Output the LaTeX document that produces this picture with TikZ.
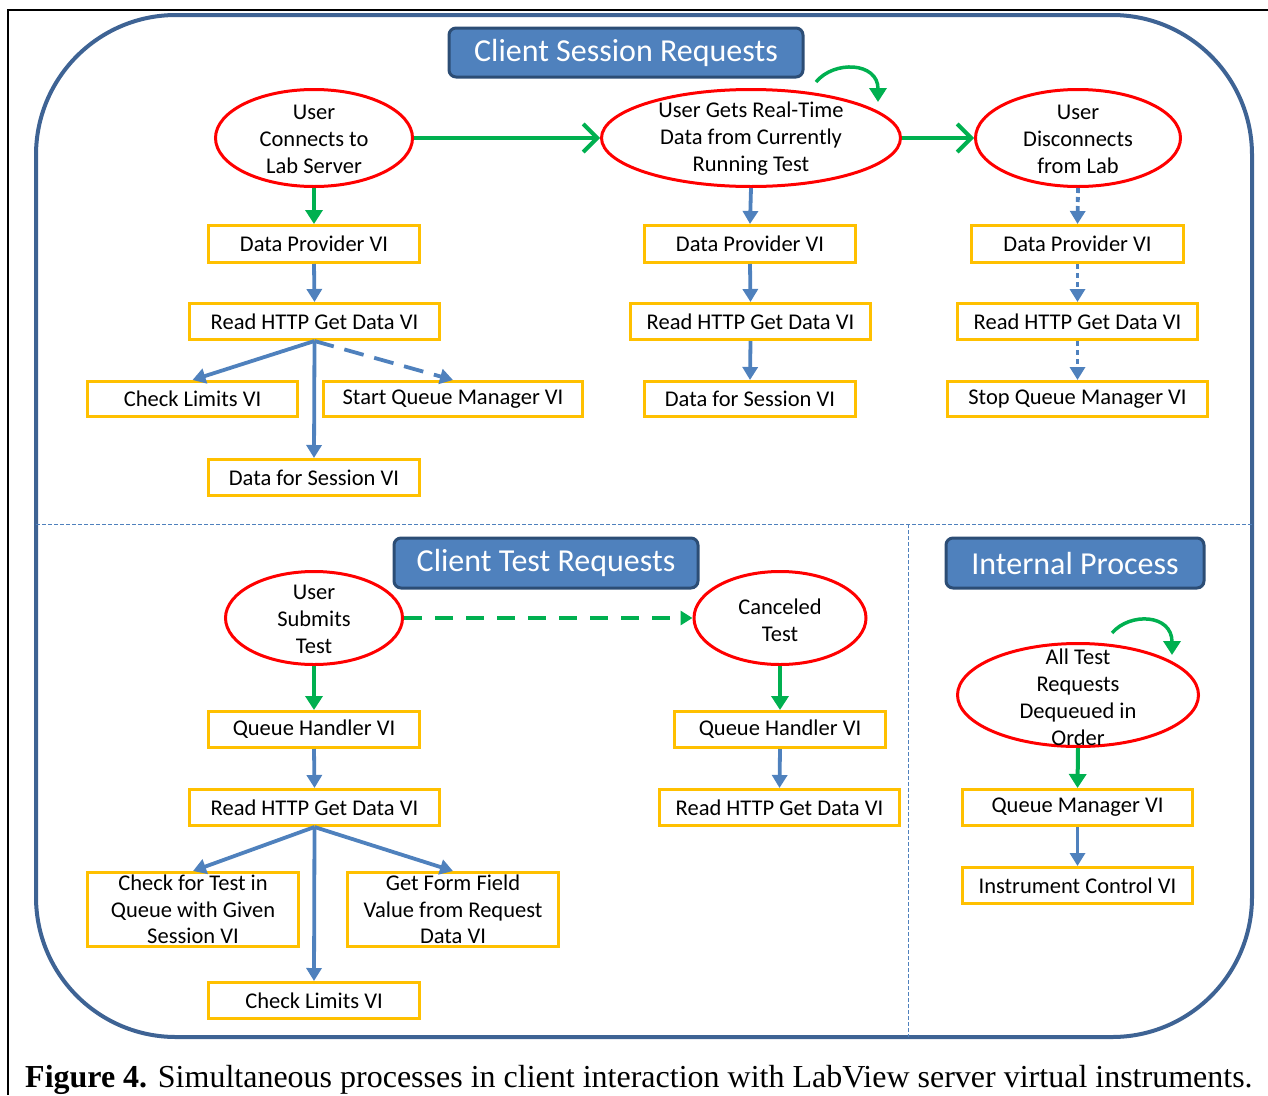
\documentclass[tikz,border=0pt]{standalone}
\usepackage{fontspec}
\setmainfont{Carlito}
\newfontfamily\capfont{Liberation Serif}
\usetikzlibrary{shapes.geometric,arrows.meta}
\definecolor{frameblue}{RGB}{62,99,148}
\definecolor{accblue}{RGB}{79,129,189}
\definecolor{darkblue}{RGB}{44,77,117}
\definecolor{boxorange}{RGB}{255,192,0}
\definecolor{arrgreen}{RGB}{0,176,80}
\definecolor{ellred}{RGB}{255,0,0}
\begin{document}
\begin{tikzpicture}[x=1pt,y=-1pt,
 vibox/.style={draw=boxorange, line width=3pt, fill=white, inner sep=0pt, align=center, font=\fontsize{22.5}{26.5}\selectfont},
 ell/.style={draw=ellred, line width=3pt, ellipse, inner sep=0pt},
 etext/.style={align=center, inner sep=0pt, font=\fontsize{22.5}{27}\selectfont},
 titlebox/.style={draw=darkblue, fill=accblue, line width=3pt, rounded corners=7pt, text=white, font=\fontsize{32}{36}\selectfont, inner sep=0pt},
 barrow/.style={draw=accblue, line width=3.8pt, -{Triangle[length=13pt,width=15pt]}},
 garrow/.style={draw=arrgreen, line width=4pt, -{Triangle[length=14pt,width=17pt]}},
 gbarb/.style={draw=arrgreen, line width=4pt, -{Straight Barb[length=14pt,width=28pt]}},
 divider/.style={draw=accblue, line width=1pt, dash pattern=on 4pt off 2pt},
]
\useasboundingbox (0,0) rectangle (1268,1095);
% frames
\draw[black, line width=2pt] (1268,10) -- (8,10) -- (8,1095);
\draw[frameblue, line width=4pt, rounded corners=140pt] (36,15) rectangle (1252,1037);
\draw[divider] (36,524) -- (1252,524);
\draw[divider] (908,524) -- (908,1037);
% titles
\node[titlebox, minimum width=354pt, minimum height=49pt] (t1) at (626,52.5) {Client Session Requests};
\node[titlebox, minimum width=304pt, minimum height=50pt] (t2) at (546,563) {Client Test Requests};
\node[titlebox, minimum width=258pt, minimum height=50pt] (t3) at (1075,563) {Internal Process};
% ellipses
\node[ell, minimum width=197pt, minimum height=97pt] (e1) at (314,138) {};
\node[etext] (e1t) at (314,139) {User\\Connects to\\Lab Server};
\node[ell, minimum width=299pt, minimum height=97pt] (e2) at (751,138) {};
\node[etext] (e2t) at (751,139) {User Gets Real-Time\\Data from Currently\\Running Test};
\node[ell, minimum width=205pt, minimum height=97pt] (e3) at (1078,138) {};
\node[etext] (e3t) at (1078,139) {User\\Disconnects\\from Lab};
\node[ell, minimum width=177pt, minimum height=93pt] (e4) at (314,618) {};
\node[etext] (e4t) at (314,619) {User\\Submits\\Test};
\node[ell, minimum width=172pt, minimum height=93pt] (e5) at (780,618) {};
\node[etext] (e5t) at (780,620) {Canceled\\Test};
\node[ell, minimum width=241pt, minimum height=103pt] (e6) at (1078,695) {};
\node[etext] (e6t) at (1078,697) {All Test\\Requests\\Dequeued in\\Order};
% boxes column 1
\node[vibox, minimum width=211pt, minimum height=37pt] (dp1) at (314,244) {Data Provider VI};
\node[vibox, minimum width=250pt, minimum height=36pt] (r1) at (314.5,321.5) {Read HTTP Get Data VI};
\node[vibox, minimum width=210pt, minimum height=35pt] (cl1) at (192.5,399) {Check Limits VI};
\node[vibox, minimum width=259pt, minimum height=35pt] (sqm) at (453,399) {Start Queue Manager VI};
\node[vibox, minimum width=211pt, minimum height=36pt] (dfs1) at (314,477.5) {Data for Session VI};
% column 2
\node[vibox, minimum width=211pt, minimum height=37pt] (dp2) at (750,244) {Data Provider VI};
\node[vibox, minimum width=240pt, minimum height=36pt] (r2) at (750.5,321.5) {Read HTTP Get Data VI};
\node[vibox, minimum width=211pt, minimum height=35pt] (dfs2) at (750,399) {Data for Session VI};
% column 3
\node[vibox, minimum width=212pt, minimum height=37pt] (dp3) at (1077.5,244) {Data Provider VI};
\node[vibox, minimum width=240pt, minimum height=36pt] (r3) at (1077.5,321.5) {Read HTTP Get Data VI};
\node[vibox, minimum width=260pt, minimum height=35pt] (sqm3) at (1077.5,399) {Stop Queue Manager VI};
% lower left
\node[vibox, minimum width=211pt, minimum height=36pt] (qh1) at (314,729.5) {Queue Handler VI};
\node[vibox, minimum width=250pt, minimum height=36pt] (r4) at (314.5,807.5) {Read HTTP Get Data VI};
\node[vibox, minimum width=211pt, minimum height=74pt] (cft) at (193,909.5) {Check for Test in\\Queue with Given\\Session VI};
\node[vibox, minimum width=211pt, minimum height=74pt] (gff) at (453,909.5) {Get Form Field\\Value from Request\\Data VI};
\node[vibox, minimum width=211pt, minimum height=36pt] (cl2) at (314,1000.5) {Check Limits VI};
% lower middle
\node[vibox, minimum width=211pt, minimum height=36pt] (qh2) at (780,729.5) {Queue Handler VI};
\node[vibox, minimum width=240pt, minimum height=36pt] (r5) at (779.5,807.5) {Read HTTP Get Data VI};
% internal
\node[vibox, minimum width=230pt, minimum height=36pt] (qm) at (1077.5,807.5) {Queue Manager VI};
\node[vibox, minimum width=230pt, minimum height=36pt] (ic) at (1077.5,885.5) {Instrument Control VI};
% connectors top
\draw[gbarb] (e1.east) -- (e2.west);
\draw[gbarb] (e2.east) -- (e3.west);
\draw[garrow] (e1.south) -- (dp1.north);
\draw[barrow] (dp1.south) -- (r1.north);
\draw[barrow] (r1.south) -- (cl1.north);
\draw[barrow] (r1.south) -- (dfs1.north);
\draw[barrow, dash pattern=on 20pt off 11pt] (r1.south) -- (sqm.north);
\draw[barrow] (e2.south) -- (dp2.north);
\draw[barrow] (dp2.south) -- (r2.north);
\draw[barrow] (r2.south) -- (dfs2.north);
\draw[barrow, dash pattern=on 5pt off 4pt] (e3.south) -- (dp3.north);
\draw[barrow, dash pattern=on 5pt off 4pt] (dp3.south) -- (r3.north);
\draw[barrow, dash pattern=on 5pt off 4pt] (r3.south) -- (sqm3.north);
% connectors bottom
\draw[garrow, -{Triangle[length=12pt,width=14pt]}, dash pattern=on 18pt off 13pt] (e4.east) -- (e5.west);
\draw[garrow] (e4.south) -- (qh1.north);
\draw[barrow] (qh1.south) -- (r4.north);
\draw[barrow] (r4.south) -- (cft.north);
\draw[barrow] (r4.south) -- (cl2.north);
\draw[barrow] (r4.south) -- (gff.north);
\draw[garrow] (e5.south) -- (qh2.north);
\draw[barrow] (qh2.south) -- (r5.north);
\draw[garrow] (e6.south) -- (qm.north);
\draw[barrow] (qm.south) -- (ic.north);
% self loops
\coordinate (l1s) at (816,82);
\coordinate (l1e) at (878,102);
\draw[garrow, line width=3.5pt] (l1s) .. controls (834,60) and (878,62) .. (l1e);
\coordinate (l2s) at (1112,633);
\coordinate (l2e) at (1172,655);
\draw[garrow, line width=3.5pt] (l2s) .. controls (1130,612) and (1172,614) .. (l2e);
% caption
\node[anchor=base west, inner sep=0pt, font=\capfont\fontsize{32}{36}\selectfont] (cap) at (25,1087) {\textbf{Figure 4.} Simultaneous processes in client interaction with LabView server virtual instruments.};
\end{tikzpicture}
\end{document}
